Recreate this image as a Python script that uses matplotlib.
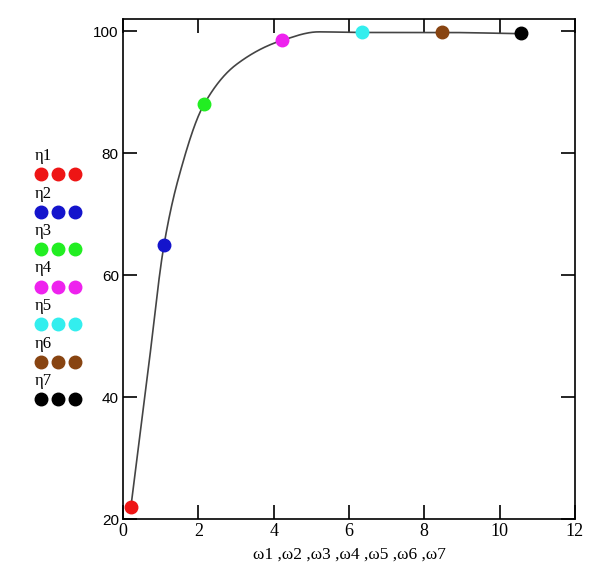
import matplotlib
matplotlib.use("Agg")
import matplotlib.pyplot as plt
import numpy as np

# values
omega = [0.21, 1.09, 2.15, 4.22, 6.34, 8.47, 10.57]
eta = [22.0, 65.0, 88.0, 98.5, 99.8, 99.8, 99.7]
names = ["η1", "η2", "η3", "η4", "η5", "η6", "η7"]
colors = ["#ee1515", "#1414cc", "#22ee22", "#ee22ee", "#33eeee", "#884411", "#000000"]

# points along the fitted curve
curve_x = [0.21, 0.65, 1.09, 1.46, 2.15, 3.0, 4.22, 5.2, 6.34, 8.47, 10.57]
curve_y = [22.0, 43.5, 65.0, 75.6, 88.0, 94.5, 98.5, 99.9, 99.8, 99.8, 99.6]


def pchip(xs, ys, n=40):
    # monotone cubic drawing path through the read points
    x = np.asarray(xs, float)
    y = np.asarray(ys, float)
    h = np.diff(x)
    d = np.diff(y) / h
    m = np.zeros_like(y)
    for k in range(1, len(x) - 1):
        if d[k - 1] * d[k] > 0:
            w1 = 2 * h[k] + h[k - 1]
            w2 = h[k] + 2 * h[k - 1]
            m[k] = (w1 + w2) / (w1 / d[k - 1] + w2 / d[k])
    m[0] = d[0]
    m[-1] = d[-1]
    out_x, out_y = [], []
    for k in range(len(x) - 1):
        t = np.linspace(0, 1, n, endpoint=False)
        h00 = 2 * t ** 3 - 3 * t ** 2 + 1
        h10 = t ** 3 - 2 * t ** 2 + t
        h01 = -2 * t ** 3 + 3 * t ** 2
        h11 = t ** 3 - t ** 2
        out_x.extend(x[k] + t * h[k])
        out_y.extend(h00 * y[k] + h10 * h[k] * m[k] + h01 * y[k + 1] + h11 * h[k] * m[k + 1])
    out_x.append(x[-1])
    out_y.append(y[-1])
    return out_x, out_y


fig = plt.figure(figsize=(6.05, 5.74), dpi=100)
ax = fig.add_axes([0.2033, 0.0958, 0.747, 0.871])

sx, sy = pchip(curve_x, curve_y)
ax.plot(sx, sy, color="#444444", lw=1.2, zorder=2)
for x, y, c in zip(omega, eta, colors):
    ax.plot(x, y, "o", ms=9, color=c, mec=c, zorder=3)

ax.set_xlim(0, 12)
ax.set_ylim(20, 102)
ax.set_xticks([0, 2, 4, 6, 8, 10, 12])
ax.set_yticks([20, 40, 60, 80, 100])
ax.tick_params(direction="in", length=10, width=1.2, top=True, right=True,
               labelsize=11, pad=3)
for lab in ax.get_xticklabels():
    lab.set_fontfamily("Liberation Serif")
    lab.set_fontsize(13)
for lab in ax.get_yticklabels():
    lab.set_fontfamily("Liberation Sans")
for s in ax.spines.values():
    s.set_linewidth(1.2)
ax.set_xlabel("ω1 ,ω2 ,ω3 ,ω4 ,ω5 ,ω6 ,ω7", family="Liberation Serif", fontsize=12.5,
              labelpad=5)

# legend drawn at the left side, in pixel coordinates
lg = fig.add_axes([0, 0, 1, 1])
lg.set_xlim(0, 605)
lg.set_ylim(574, 0)
lg.axis("off")
for i, (n, c) in enumerate(zip(names, colors)):
    y0 = 156 + 37.5 * i
    lg.text(35, y0, n, family="Liberation Serif", fontsize=12, va="center", ha="left")
    lg.plot([41, 58, 75], [y0 + 18] * 3, "o", ms=9, color=c, mec=c)

fig.savefig("out.png", dpi=100)
